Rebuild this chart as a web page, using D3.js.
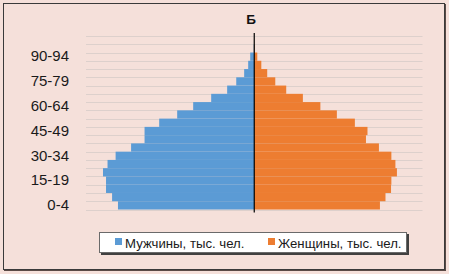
<!DOCTYPE html>
<html>
<head>
<meta charset="utf-8">
<script src="https://cdn.jsdelivr.net/npm/d3@7"></script>
<style>
  html, body { margin: 0; padding: 0; background: #f5e0da; }
  svg { display: block; }
</style>
</head>
<body>
<div id="chart"></div>
<script>
// Age groups, bottom to top
const ageGroups = ['0-4', '5-9', '10-14', '15-19', '20-24', '25-29', '30-34', '35-39', '40-44',
  '45-49', '50-54', '55-59', '60-64', '65-69', '70-74', '75-79', '80-84', '85-89', '90-94',
  '95-99', '100+'];
const labelledGroups = ['0-4', '15-19', '30-34', '45-49', '60-64', '75-79', '90-94'];

// тыс. чел.
const men   = [81.0, 84.5, 88.1, 88.1, 89.9, 87.2, 82.4, 73.2, 65.2, 65.2, 56.5, 45.8, 36.3,
  25.6, 16.1, 10.7, 6.0, 3.6, 2.4, 0.3, 0];
const women = [74.7, 78.0, 81.3, 81.5, 84.8, 83.9, 81.5, 74.1, 66.4, 67.3, 59.8, 49.1, 39.3,
  28.9, 19.0, 12.5, 7.7, 4.2, 1.8, 0.3, 0];

const seriesNames = ['Мужчины, тыс. чел.', 'Женщины, тыс. чел.'];
const seriesColors = ['#5b9bd5', '#ed7d31'];

const width = 449, height = 274;
const plot = { left: 86, right: 422.5, top: 36, bottom: 209.5 };
const font = 'Liberation Sans, Arial, sans-serif';

const svg = d3.select('#chart').append('svg')
  .attr('width', width).attr('height', height);

// frame (darker on right/bottom like the source)
svg.append('rect')
  .attr('x', 4).attr('y', 4).attr('width', 442).attr('height', 267)
  .attr('fill', '#5a4a46');
svg.append('rect')
  .attr('x', 3.5).attr('y', 3.5).attr('width', 441).attr('height', 266)
  .attr('fill', '#f5e0da').attr('stroke', '#3a3a3a').attr('stroke-width', 1);

const x = d3.scaleLinear().domain([-100, 100]).range([plot.left, plot.right]);
const y = d3.scaleBand().domain(ageGroups).range([plot.bottom, plot.top]).padding(0);

// gridlines at band edges
const edges = ageGroups.map((g) => y(g) + y.bandwidth()).concat([plot.top]);
svg.append('g').selectAll('line').data(edges).join('line')
  .attr('x1', plot.left).attr('x2', plot.right)
  .attr('y1', (d) => Math.round(d) + 0.5).attr('y2', (d) => Math.round(d) + 0.5)
  .attr('stroke', '#ddd0cc').attr('stroke-width', 1);

// bars
const rows = ageGroups.map((g, i) => ({ group: g, men: men[i], women: women[i] }));
const bars = svg.append('g');
bars.selectAll('rect.men').data(rows).join('rect')
  .attr('class', 'men')
  .attr('x', (d) => x(-d.men)).attr('width', (d) => x(0) - x(-d.men))
  .attr('y', (d) => y(d.group)).attr('height', y.bandwidth())
  .attr('fill', seriesColors[0]);
bars.selectAll('rect.women').data(rows).join('rect')
  .attr('class', 'women')
  .attr('x', x(0)).attr('width', (d) => x(d.women) - x(0))
  .attr('y', (d) => y(d.group)).attr('height', y.bandwidth())
  .attr('fill', seriesColors[1]);

// vertical category axis at zero
svg.append('line')
  .attr('x1', x(0)).attr('x2', x(0))
  .attr('y1', plot.top - 3).attr('y2', plot.bottom + 3)
  .attr('stroke', '#000').attr('stroke-width', 1.2);

// age labels on the left
const yAxis = svg.append('g')
  .attr('transform', `translate(${plot.left},0)`)
  .call(d3.axisLeft(y).tickValues(labelledGroups).tickSize(0).tickPadding(17));
yAxis.select('.domain').remove();
yAxis.selectAll('text')
  .attr('font-family', font)
  .attr('font-size', 15).attr('fill', '#1a1a1a');

// title
svg.append('text')
  .attr('x', 251).attr('y', 24)
  .attr('text-anchor', 'middle')
  .attr('font-family', font)
  .attr('font-size', 13.5).attr('font-weight', 'bold').attr('fill', '#111')
  .text('Б');

// legend
const lg = svg.append('g');
lg.append('rect').attr('x', 101).attr('y', 234).attr('width', 308).attr('height', 21)
  .attr('fill', '#404040');
lg.append('rect').attr('x', 99.5).attr('y', 232.5).attr('width', 307).attr('height', 20)
  .attr('fill', '#fff').attr('stroke', '#6a6a6a').attr('stroke-width', 1);
const legendX = [115, 268];
seriesNames.forEach((name, i) => {
  lg.append('rect').attr('x', legendX[i]).attr('y', 238).attr('width', 7).attr('height', 7)
    .attr('fill', seriesColors[i]);
  lg.append('text').attr('x', legendX[i] + 10).attr('y', 247.5)
    .attr('font-family', font)
    .attr('font-size', 13.2).attr('fill', '#1a1a1a')
    .text(name);
});
</script>
</body>
</html>
